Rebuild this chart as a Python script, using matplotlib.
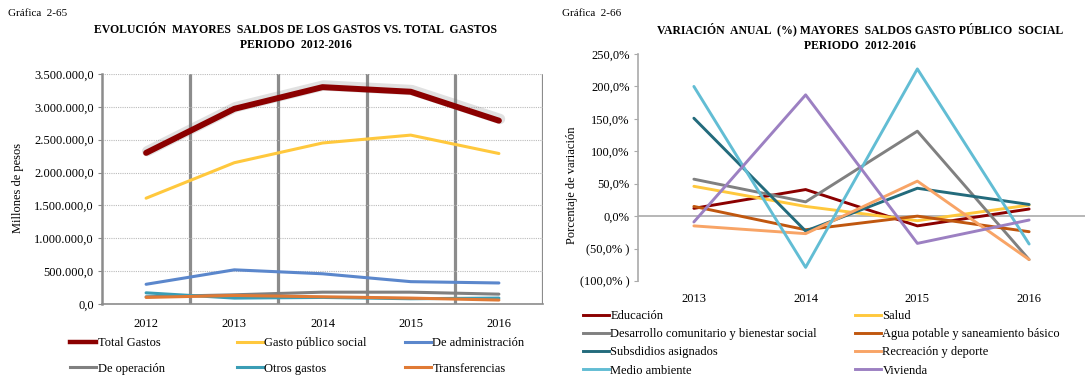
import matplotlib
matplotlib.use("Agg")
import matplotlib.pyplot as plt
import matplotlib.patheffects as pe
from matplotlib.ticker import FuncFormatter, MultipleLocator
from matplotlib.lines import Line2D

plt.rcParams['font.family'] = ['Liberation Serif', 'DejaVu Serif']
plt.rcParams['font.size'] = 9

# ---- data: left chart (millones de pesos) ----
years_left = ["2012", "2013", "2014", "2015", "2016"]
total_gastos = [2300000, 2970000, 3300000, 3230000, 2790000]
gasto_publico_social = [1610000, 2150000, 2450000, 2570000, 2290000]
de_administracion = [300000, 520000, 460000, 340000, 320000]
de_operacion = [110000, 140000, 180000, 180000, 150000]
otros_gastos = [170000, 90000, 100000, 80000, 90000]
transferencias = [100000, 130000, 110000, 90000, 60000]

# ---- data: right chart (variacion anual %) ----
years_right = ["2013", "2014", "2015", "2016"]
educacion = [12, 41, -15, 11]
salud = [46, 15, -7, 17]
desarrollo_comunitario = [57, 22, 131, -67]
agua_potable = [15, -21, 0, -24]
subsidios_asignados = [151, -23, 43, 18]
recreacion_deporte = [-15, -27, 54, -67]
medio_ambiente = [200, -79, 227, -43]
vivienda = [-9, 187, -42, -6]

W, H = 1085, 376
fig = plt.figure(figsize=(W / 100, H / 100), dpi=100)


def fx(px):
    return px / W


def fy(py):
    return 1 - py / H


# ================= left chart =================
ax1 = fig.add_axes([fx(102), fy(304), fx(543 - 102), (304 - 74) / H])
xl = list(range(len(years_left)))

left_series = [
    ("Total Gastos", total_gastos, "#8B0000", 4.3),
    ("Gasto público social", gasto_publico_social, "#FFC83D", 2.2),
    ("De administración", de_administracion, "#5B87CC", 2.2),
    ("De operación", de_operacion, "#808080", 2.2),
    ("Otros gastos", otros_gastos, "#3A9DB5", 2.2),
    ("Transferencias", transferencias, "#E07A35", 2.2),
]
left_handles = []
for name, vals, col, lw in left_series:
    if name == "Total Gastos":
        ax1.plot(xl, vals, color=col, lw=lw, solid_capstyle="round", zorder=5,
                 path_effects=[pe.SimpleLineShadow(offset=(0.8, 1.2), shadow_color="#777777",
                                                   alpha=0.22, linewidth=7.5),
                               pe.Normal()])
    else:
        ax1.plot(xl, vals, color=col, lw=lw, solid_capstyle="round", zorder=4)
    left_handles.append(Line2D([], [], color=col, lw=lw if lw < 3 else 3.2, label=name))

ax1.set_xlim(-0.5, 4.5)
ax1.set_ylim(0, 3500000)
ax1.yaxis.set_major_locator(MultipleLocator(500000))
ax1.yaxis.set_major_formatter(FuncFormatter(
    lambda v, p: f"{v:,.1f}".replace(",", "X").replace(".", ",").replace("X", ".")))
ax1.set_xticks(xl)
ax1.set_xticklabels(years_left)
ax1.tick_params(axis="x", length=0, pad=10)
ax1.tick_params(axis="y", length=3, color="#888888", pad=3)
ax1.grid(axis="y", color="#BBBBBB", ls=(0, (1, 1)), lw=0.8)
for b in [0.5, 1.5, 2.5, 3.5, 4.5]:
    ax1.axvline(b, color="#8C8C8C", lw=2.3, zorder=1)
for s in ["top", "right"]:
    ax1.spines[s].set_visible(False)
ax1.spines["left"].set_color("#8C8C8C")
ax1.spines["left"].set_linewidth(1.8)
ax1.spines["bottom"].set_color("#8C8C8C")
ax1.spines["bottom"].set_linewidth(1.2)

fig.text(fx(8), fy(14), "Gráfica  2-65", fontsize=8, va="center")
fig.text(fx(296), fy(37.5), "EVOLUCIÓN  MAYORES  SALDOS DE LOS GASTOS VS. TOTAL  GASTOS\nPERIODO  2012-2016",
         ha="center", va="center", fontweight="bold", fontsize=8.5, linespacing=1.35)
fig.text(fx(18), fy(188), "Millones de pesos", rotation=90, ha="center", va="center", fontsize=9)

# legend (3 columns)
col_x = [70, 237, 405]
for i, cx in enumerate(col_x):
    fig.legend(handles=[left_handles[i], left_handles[i + 3]], loc="upper left",
               bbox_to_anchor=(fx(cx), fy(337)), frameon=False, borderpad=0, borderaxespad=0,
               handlelength=2.1, handletextpad=0.1, labelspacing=1.1, fontsize=9)

# ================= right chart =================
ax2 = fig.add_axes([fx(638), fy(281), fx(1085 - 638), (281 - 54) / H])
xr = list(range(len(years_right)))
right_series = [
    ("Educación", educacion, "#8B0000"),
    ("Salud", salud, "#FFC83D"),
    ("Desarrollo comunitario y bienestar social", desarrollo_comunitario, "#808080"),
    ("Agua potable y saneamiento básico", agua_potable, "#C0570F"),
    ("Subsdidios asignados", subsidios_asignados, "#236B7C"),
    ("Recreación y deporte", recreacion_deporte, "#F8A466"),
    ("Medio ambiente", medio_ambiente, "#62BDD4"),
    ("Vivienda", vivienda, "#9C80C2"),
]
right_handles = []
for name, vals, col in right_series:
    ax2.plot(xr, vals, color=col, lw=2.1, solid_capstyle="round", zorder=4)
    right_handles.append(Line2D([], [], color=col, lw=2.1, label=name))

ax2.set_xlim(-0.5, 3.5)
ax2.set_ylim(-100, 250)
ax2.yaxis.set_major_locator(MultipleLocator(50))


def pct(v, p):
    s = f"{abs(v):.1f}".replace(".", ",") + "%"
    return f"({s} )" if v < 0 else s


ax2.yaxis.set_major_formatter(FuncFormatter(pct))
ax2.set_xticks(xr)
ax2.set_xticklabels(years_right)
ax2.tick_params(axis="x", length=0, pad=9)
ax2.tick_params(axis="y", length=3, color="#AAAAAA", pad=3)
ax2.axhline(0, color="#AAAAAA", lw=1.2, zorder=2)
for s in ["top", "right", "bottom"]:
    ax2.spines[s].set_visible(False)
ax2.spines["left"].set_color("#AAAAAA")
ax2.spines["left"].set_linewidth(1.2)

fig.text(fx(562), fy(14), "Gráfica  2-66", fontsize=8, va="center")
fig.text(fx(860), fy(37.5), "VARIACIÓN  ANUAL  (%) MAYORES  SALDOS GASTO PÚBLICO  SOCIAL\nPERIODO  2012-2016",
         ha="center", va="center", fontweight="bold", fontsize=8.5, linespacing=1.35)
fig.text(fx(572), fy(185), "Porcentaje de variación", rotation=90, ha="center", va="center", fontsize=9)

for i, cx in enumerate([583, 855]):
    fig.legend(handles=right_handles[i::2], loc="upper left",
               bbox_to_anchor=(fx(cx), fy(310)), frameon=False, borderpad=0, borderaxespad=0,
               handlelength=2.1, handletextpad=0.1, labelspacing=0.5, fontsize=9)

fig.savefig("out.png", dpi=100)
